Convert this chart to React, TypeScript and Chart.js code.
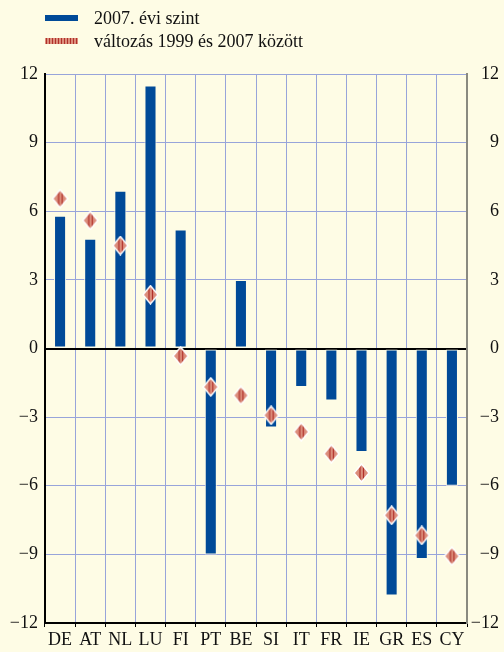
import { useEffect, useRef } from "react";
import { Chart, registerables } from "chart.js";

Chart.register(...registerables);

const categories = ["DE", "AT", "NL", "LU", "FI", "PT", "BE", "SI", "IT", "FR", "IE", "GR", "ES", "CY"];
const level2007 = [5.8, 4.8, 6.9, 11.5, 5.2, -9.0, 3.0, -3.45, -1.68, -2.27, -4.52, -10.8, -9.2, -6.0];
const change1999to2007 = [6.55, 5.6, 4.5, 2.35, -0.33, -1.68, -2.05, -2.92, -3.64, -4.6, -5.44, -7.29, -8.17, -9.08];
const yMin = -12;
const yMax = 12;
const yStep = 3;
const legendLabels = ["2007. évi szint", "változás 1999 és 2007 között"];

const BG = "#FEFCE5";
const BLUE = "#004A98";
const SALMON = "#DC8E7C";
const STRIPE = "#B0302A";
const GRID = "#98A4DA";
const FONT = "'Liberation Serif', 'Times New Roman', serif";

function fmt(v: number): string {
  return v < 0 ? "\u2212" + Math.abs(v) : String(v);
}

function makeDiamond(): HTMLCanvasElement {
  const c = document.createElement("canvas");
  const w = 17, h = 20;
  c.width = w;
  c.height = h;
  const ctx = c.getContext("2d")!;
  const path = () => {
    ctx.beginPath();
    ctx.moveTo(w / 2, 1);
    ctx.lineTo(w - 1, h / 2);
    ctx.lineTo(w / 2, h - 1);
    ctx.lineTo(1, h / 2);
    ctx.closePath();
  };
  path();
  ctx.fillStyle = SALMON;
  ctx.fill();
  ctx.save();
  ctx.clip();
  ctx.strokeStyle = STRIPE;
  ctx.lineWidth = 1.2;
  for (const x of [7, 10.5]) {
    ctx.beginPath();
    ctx.moveTo(x, 0);
    ctx.lineTo(x, h);
    ctx.stroke();
  }
  ctx.restore();
  path();
  ctx.strokeStyle = "#FFFFFF";
  ctx.lineWidth = 1.5;
  ctx.stroke();
  return c;
}

const legendPlugin = {
  id: "customLegend",
  afterDraw(chart: any) {
    const ctx = chart.ctx as CanvasRenderingContext2D;
    ctx.save();
    ctx.fillStyle = BLUE;
    ctx.fillRect(45, 15, 33, 6);
    ctx.fillStyle = SALMON;
    ctx.fillRect(45, 38, 33, 6);
    ctx.fillStyle = STRIPE;
    for (let x = 46; x < 78; x += 3) {
      ctx.fillRect(x, 38, 1, 6);
    }
    ctx.fillStyle = "#111";
    ctx.font = `18px ${FONT}`;
    ctx.textBaseline = "alphabetic";
    ctx.fillText(legendLabels[0], 94, 24);
    ctx.fillText(legendLabels[1], 94, 47);
    ctx.restore();
  },
};

const bgPlugin = {
  id: "bg",
  beforeDraw(chart: any) {
    const ctx = chart.ctx as CanvasRenderingContext2D;
    ctx.save();
    ctx.fillStyle = BG;
    ctx.fillRect(0, 0, chart.width, chart.height);
    ctx.restore();
  },
};

export default function App() {
  const ref = useRef<HTMLCanvasElement>(null);

  useEffect(() => {
    if (!ref.current) return;
    const diamond = makeDiamond();
    const chart = new Chart(ref.current, {
      type: "bar",
      data: {
        labels: categories,
        datasets: [
          {
            type: "line",
            label: legendLabels[1],
            data: change1999to2007,
            showLine: false,
            pointStyle: diamond as any,
            pointRadius: 9,
            order: 0,
          } as any,
          {
            type: "bar",
            label: legendLabels[0],
            data: level2007,
            backgroundColor: BLUE,
            borderColor: BG,
            borderWidth: 1,
            borderSkipped: false,
            categoryPercentage: 1,
            barPercentage: 0.4,
            order: 1,
          },
        ],
      },
      options: {
        responsive: false,
        animation: false,
        layout: { padding: { top: 74, left: 0, right: 5, bottom: 0 } },
        plugins: {
          legend: { display: false },
          tooltip: { enabled: false },
        },
        scales: {
          x: {
            offset: true,
            grid: {
              offset: true,
              color: GRID,
              lineWidth: 1,
              tickColor: "#000",
              tickLength: 4,
              drawTicks: true,
            },
            border: { color: "#000", width: 2 },
            ticks: {
              color: "#111",
              font: { family: FONT, size: 18 },
              padding: 2,
              maxRotation: 0,
              autoSkip: false,
            },
            afterFit(s: any) {
              s.height = 29;
            },
          },
          y: {
            position: "left",
            min: yMin,
            max: yMax,
            ticks: {
              stepSize: yStep,
              color: "#111",
              font: { family: FONT, size: 18 },
              padding: 7,
              callback: (v: any) => fmt(Number(v)),
            },
            grid: {
              drawTicks: false,
              color: (c: any) => (c.tick && c.tick.value === 0 ? "#000" : GRID),
              lineWidth: (c: any) => (c.tick && c.tick.value === 0 ? 2 : 1),
            },
            border: { color: "#000", width: 2 },
            afterFit(s: any) {
              s.width = 45;
            },
          },
          y2: {
            position: "right",
            min: yMin,
            max: yMax,
            ticks: {
              stepSize: yStep,
              color: "#111",
              font: { family: FONT, size: 18 },
              padding: 0,
              crossAlign: "far",
              callback: (v: any) => fmt(Number(v)),
            },
            grid: { display: false, drawTicks: false },
            border: { color: "#8A8A80", width: 2 },
            afterFit(s: any) {
              s.width = 32;
            },
          },
        },
      },
      plugins: [bgPlugin, legendPlugin],
    });
    return () => chart.destroy();
  }, []);

  return (
    <div style={{ position: "fixed", left: 0, top: 0, width: 504, height: 652, background: BG }}>
      <canvas ref={ref} width={504} height={652} style={{ display: "block" }} />
    </div>
  );
}
